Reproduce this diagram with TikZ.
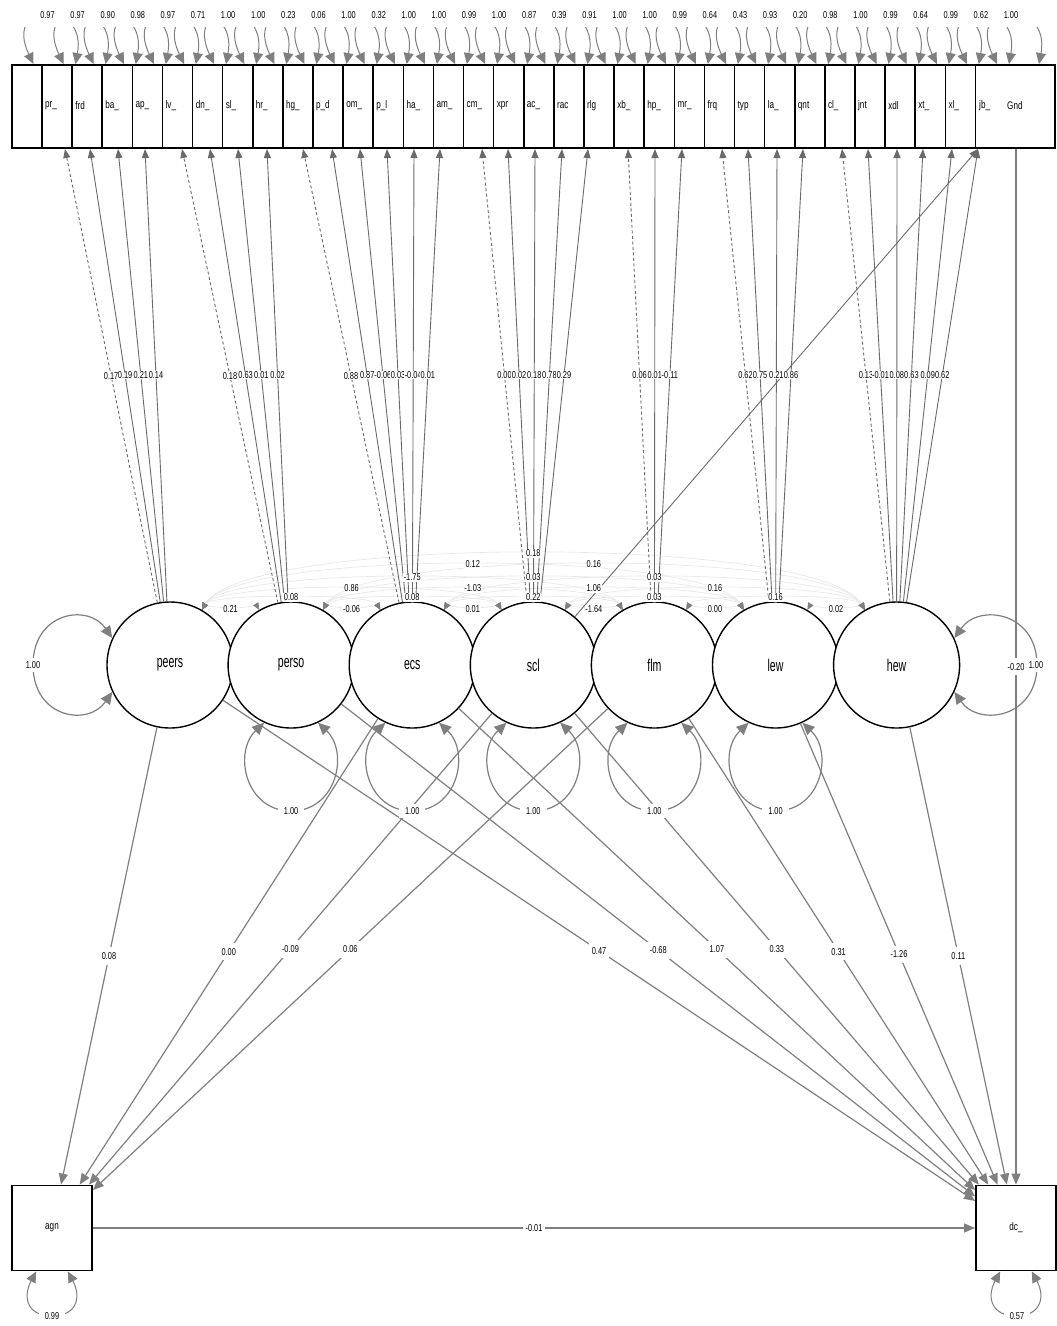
\documentclass[tikz,border=0pt]{standalone}
\usepackage{fontspec}
\newfontfamily\cnd[FakeStretch=0.74]{Liberation Sans}
\newfontfamily\cndl[FakeStretch=0.62]{Liberation Sans}
\usetikzlibrary{arrows.meta,backgrounds}
\definecolor{egray}{HTML}{7F7F7F}
\definecolor{lgray}{HTML}{6A6A6A}
\tikzset{
  numf/.style={font=\cnd\fontsize{10}{10}\selectfont},
  lat/.style={circle,draw=black,fill=white,line width=1.4pt,minimum size=126,inner sep=0pt,font=\cndl\fontsize{17}{17}\selectfont},
  obs/.style={rectangle,draw=black,fill=white,line width=1.8pt,minimum width=80,minimum height=85,inner sep=0pt,font=\cnd\fontsize{11}{11}\selectfont},
  mlab/.style={inner sep=0pt,anchor=west,font=\cnd\fontsize{11}{11}\selectfont},
  llab/.style={numf,fill=white,inner sep=0.4pt,midway},
  slab/.style={numf,fill=white,inner xsep=3pt,inner ysep=5pt,midway},
  clab/.style={numf,fill=white,inner sep=0.8pt,midway},
  rlab/.style={numf,fill=white,inner xsep=6pt,inner ysep=3pt},
  ledge/.style={draw=lgray,line width=0.9pt,-{Triangle[length=9pt,width=7pt]}},
  sedge/.style={draw=egray,line width=1.2pt,-{Triangle[length=11pt,width=9pt]}},
  resid/.style={draw=egray,line width=1pt,{Triangle[length=11pt,width=10pt]}-{Triangle[length=11pt,width=10pt]}},
  vloop/.style={draw=egray,line width=1.2pt,{Triangle[length=12pt,width=11pt]}-{Triangle[length=12pt,width=11pt]}},
  cov/.style={draw=black!9,line width=0.7pt,{Triangle[length=7pt,width=6pt,color=egray]}-{Triangle[length=7pt,width=6pt,color=egray]}},
  fix/.style={dash pattern=on 3pt off 2.5pt},
}
\def\loadings{peers/0/0.17/fix, peers/1/0.19/solid, peers/2/0.21/solid, peers/3/0.14/solid,
perso/4/0.18/fix, perso/5/0.63/solid, perso/6/0.01/solid, perso/7/0.02/solid,
ecs/8/0.88/fix, ecs/9/0.87/solid, ecs/10/-0.06/solid, ecs/11/0.03/solid, ecs/12/-0.04/solid, ecs/13/0.01/solid,
scl/14/0.00/fix, scl/15/0.02/solid, scl/16/0.18/solid, scl/17/0.78/solid, scl/18/0.29/solid,
flm/19/0.06/fix, flm/20/0.01/solid, flm/21/-0.11/solid,
lew/22/0.62/fix, lew/23/0.75/solid, lew/24/0.21/solid, lew/25/0.86/solid,
hew/26/0.13/fix, hew/27/-0.01/solid, hew/28/0.08/solid, hew/29/0.63/solid, hew/30/0.09/solid, hew/31/0.62/solid}
\def\covs{peers/perso/1/0.21, perso/ecs/1/-0.06, ecs/scl/1/0.01, scl/flm/1/-1.64, flm/lew/1/0.00, lew/hew/1/0.02,
peers/ecs/19/0.08, perso/scl/19/0.08, ecs/flm/19/0.22, scl/lew/19/0.03, flm/hew/19/0.16,
peers/scl/33/0.86, perso/flm/33/-1.03, ecs/lew/33/1.06, scl/hew/33/0.16,
peers/flm/50/-1.75, perso/lew/50/0.03, ecs/hew/50/0.03,
peers/lew/70/0.12, perso/hew/70/0.16,
peers/hew/87/0.18}
\def\toagn{peers/0.08, ecs/0.00, scl/-0.09, flm/0.06}
\def\todc{peers/0.47, perso/-0.68, ecs/1.07, scl/0.33, flm/0.31, lew/-1.26, hew/0.11}
\def\resvals{0.97,0.97,0.90,0.98,0.97,0.71,1.00,1.00,0.23,0.06,1.00,0.32,1.00,1.00,0.99,1.00,0.87,0.39,0.91,1.00,1.00,0.99,0.64,0.43,0.93,0.20,0.98,1.00,0.99,0.64,0.99,0.62,1.00}
\begin{document}
\begin{tikzpicture}[x=1pt,y=-1pt]
\useasboundingbox (0,0) rectangle (1057,1326);

% latent variables
\foreach \nm [count=\i from 0] in {peers,perso,ecs,scl,flm,lew,hew}
  \node[lat] (\nm) at ({170+121.1*\i},665) {\nm};

% observed outcome variables
\node[obs] (agn) at (52,1228) {agn};
\node[obs] (dc) at (1016,1228) {dc\_};

% top row of indicators
\draw[line width=1.8pt] (12,65) rectangle (1055,148);
\foreach \k in {0,...,31}
  \draw[line width=1.5pt] ({42+30.11*\k},65) -- ({42+30.11*\k},148);
\foreach \lab [count=\k from 0] in {pr\_,frd,ba\_,ap\_,lv\_,dn\_,sl\_,hr\_,hg\_,p\_d,om\_,p\_l,ha\_,am\_,cm\_,xpr,ac\_,rac,rlg,xb\_,hp\_,mr\_,frq,typ,la\_,qnt,cl\_,jnt,xdl,xt\_,xl\_}
  \node[mlab] (m\k) at ({45+30.11*\k},106) {\lab};
\node[mlab] (m31) at (979,106) {jb\_};
\node[mlab] (m32) at (1007,106) {Gnd};

% arrow-tip points on the bottom of the indicator row
\foreach \x [count=\k from 0] in {65,90,118,145,182,210,238,267,303,332,360,387,414,440,482,508,535,562,588,628,655,682,722,748,777,803,842,868,897,923,952,978}
  \coordinate (t\k) at (\x,149);
\coordinate (g) at (1016,149);

% residual loops on indicators
\foreach \lv [count=\k from 0] in \resvals {
  \pgfmathsetmacro{\vx}{47.5+30.11*\k}
  \draw[resid] ({\vx-14},64) .. controls ({\vx-45},-1) and ({\vx+40},-1) .. ({\vx+28},64);
}
\fill[white] (0,-10) rectangle (1057,27);
\foreach \lv [count=\k from 0] in \resvals
  \node[numf,inner sep=0pt] (v\k) at ({47.5+30.11*\k},15) {\lv};

% covariances between latents
\begin{scope}[on background layer]
\foreach \p/\q/\h/\lv in \covs
  \draw[cov] (\p.60) .. controls +(60:{\h*1pt}) and +(120:{\h*1pt}) .. (\q.120);
\end{scope}

% loadings
\foreach \src/\k/\lv/\st in \loadings
  \draw[ledge,\st] (\src) -- (t\k);
\draw[ledge] (scl) -- (t31);

% regressions
\foreach \src/\lv in \toagn \draw[sedge] (\src) -- (agn);
\foreach \src/\lv in \todc \draw[sedge] (\src) -- (dc);
\draw[sedge] (g) -- (dc);
\draw[sedge] (agn) -- (dc);

% variance loops of latents
\draw[vloop] (peers.155) .. controls (88,603) and (33,612) .. (33,665) .. controls (33,718) and (88,727) .. (peers.205);
\draw[vloop] (hew.25) .. controls (979,603) and (1037,612) .. (1037,665) .. controls (1037,718) and (979,727) .. (hew.335);
\foreach \nm/\cx in {perso/291.1,ecs/412.2,scl/533.3,flm/654.4,lew/775.5}
  \draw[vloop] (\nm.245) .. controls ({\cx-58},752) and ({\cx-46},811) .. ({\cx},811) .. controls ({\cx+46},811) and ({\cx+58},752) .. (\nm.295);

% residual loops of outcomes
\draw[resid] (agn.250) .. controls (22,1298) and (28,1316) .. (52,1316) .. controls (76,1316) and (82,1298) .. (agn.290);
\draw[resid] (dc.250) .. controls (986,1298) and (992,1316) .. (1016,1316) .. controls (1040,1316) and (1046,1298) .. (dc.290);

% ---- labels on top ----
\foreach \src/\k/\lv/\st in \loadings
  \path (\src) -- node[llab]{\lv} (t\k);
\foreach \src/\lv in \toagn \path (\src) -- node[slab]{\lv} (agn);
\foreach \src/\lv in \todc \path (\src) -- node[slab]{\lv} (dc);
\path (g) -- node[slab]{-0.20} (dc);
\path (agn) -- node[slab]{-0.01} (dc);
\foreach \p/\q/\h/\lv in \covs
  \path (\p.60) .. controls +(60:{\h*1pt}) and +(120:{\h*1pt}) .. node[clab]{\lv} (\q.120);

\node[rlab] (lpeers) at (33,665) {1.00};
\node[rlab,inner xsep=2pt] (lhew) at (1036,665) {1.00};
\foreach \nm/\cx in {perso/291.1,ecs/412.2,scl/533.3,flm/654.4,lew/775.5}
  \node[rlab] (l\nm) at (\cx,811) {1.00};
\node[rlab] (lagn) at (52,1316) {0.99};
\node[rlab] (ldc) at (1017,1316) {0.57};
\end{tikzpicture}
\end{document}
